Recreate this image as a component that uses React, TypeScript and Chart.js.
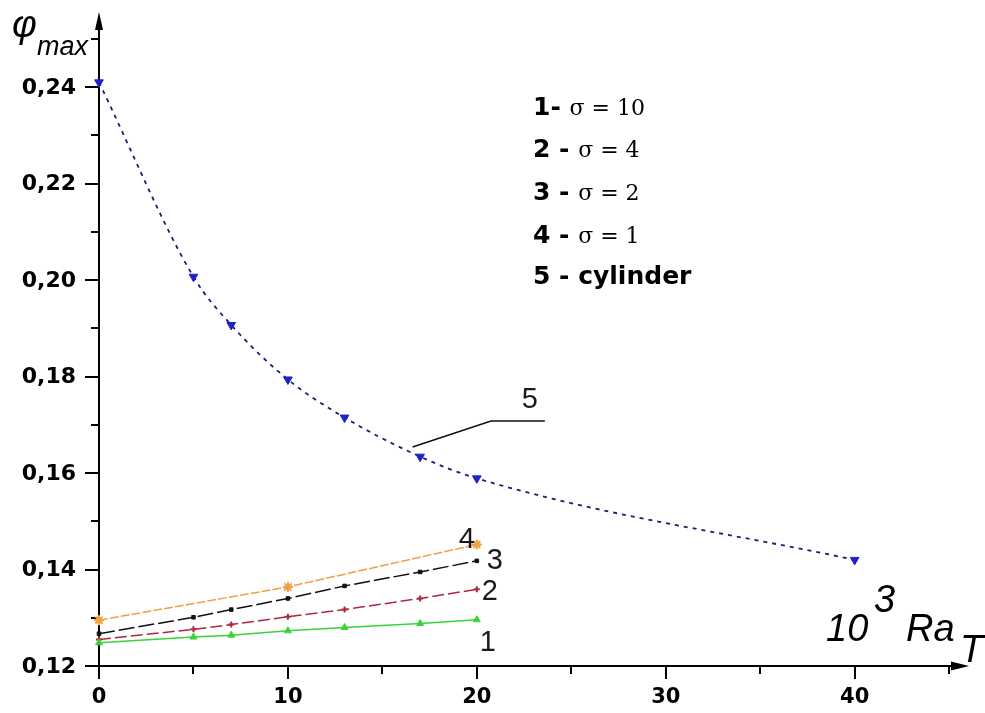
import React, { useEffect, useRef } from "react";
import { Chart, registerables } from "chart.js";

Chart.register(...registerables);

// ---------- data ----------
const xSigma = [0, 5, 7, 10, 13, 17, 20];
const ySigma10 = [0.1248, 0.126, 0.1264, 0.1273, 0.128, 0.1288, 0.1296];
const ySigma4 = [0.1255, 0.1276, 0.1286, 0.1302, 0.1317, 0.134, 0.1359];
const ySigma2 = [0.1267, 0.1301, 0.1317, 0.134, 0.1366, 0.1395, 0.1418];
const xSigma1 = [0, 10, 20];
const ySigma1 = [0.1295, 0.1364, 0.1452];
const xCylinder = [0, 5, 7, 10, 13, 17, 20, 40];
const yCylinder = [0.241, 0.2007, 0.1907, 0.1794, 0.1715, 0.1634, 0.1589, 0.142];

const xMajorTicks = [0, 10, 20, 30, 40];
const xMinorTicks = [5, 15, 25, 35, 45];
const yMajorTicks = [0.12, 0.14, 0.16, 0.18, 0.2, 0.22, 0.24];
const yMinorTicks = [0.13, 0.15, 0.17, 0.19, 0.21, 0.23, 0.25];

const legendSans = ["1- ", "2 - ", "3 - ", "4 - ", "5 - cylinder"];
const legendSerif = ["σ = 10", "σ = 4", "σ = 2", "σ = 1", ""];
const curveLabels = ["1", "2", "3", "4", "5"];

const X_MAX = 46;
const Y_MIN = 0.12;
const Y_MAX = 0.256;

function pts(xs: number[], ys: number[]) {
  return xs.map((x, i) => ({ x, y: ys[i] }));
}

const fmt = (v: number) => v.toFixed(2).replace(".", ",");

const decorPlugin = {
  id: "decor",
  beforeDatasetsDraw(chart: any) {
    const ctx = chart.ctx as CanvasRenderingContext2D;
    const xs = chart.scales.x;
    const ys = chart.scales.y;
    const x0 = xs.getPixelForValue(0);
    const y0 = ys.getPixelForValue(Y_MIN);
    ctx.save();
    ctx.strokeStyle = "#000";
    ctx.fillStyle = "#000";
    ctx.lineWidth = 2;
    // y axis
    ctx.beginPath();
    ctx.moveTo(x0, y0);
    ctx.lineTo(x0, 16);
    ctx.stroke();
    // y arrow
    ctx.beginPath();
    ctx.moveTo(x0, 12);
    ctx.lineTo(x0 - 4, 30);
    ctx.lineTo(x0 + 4, 30);
    ctx.closePath();
    ctx.fill();
    // x axis
    ctx.beginPath();
    ctx.moveTo(x0 - 14, y0);
    ctx.lineTo(962, y0);
    ctx.stroke();
    ctx.beginPath();
    ctx.moveTo(969, y0);
    ctx.lineTo(951, y0 - 4.5);
    ctx.lineTo(951, y0 + 4.5);
    ctx.closePath();
    ctx.fill();
    // y ticks
    ctx.lineWidth = 2;
    for (const v of yMajorTicks) {
      const py = Math.round(ys.getPixelForValue(v));
      ctx.beginPath();
      ctx.moveTo(x0 - 14, py);
      ctx.lineTo(x0, py);
      ctx.stroke();
    }
    for (const v of yMinorTicks) {
      const py = Math.round(ys.getPixelForValue(v));
      ctx.beginPath();
      ctx.moveTo(x0 - 8, py);
      ctx.lineTo(x0, py);
      ctx.stroke();
    }
    for (const v of xMajorTicks) {
      const px = Math.round(xs.getPixelForValue(v));
      ctx.beginPath();
      ctx.moveTo(px, y0);
      ctx.lineTo(px, y0 + 13);
      ctx.stroke();
    }
    for (const v of xMinorTicks) {
      const px = Math.round(xs.getPixelForValue(v));
      ctx.beginPath();
      ctx.moveTo(px, y0);
      ctx.lineTo(px, y0 + 8);
      ctx.stroke();
    }
    // tick labels
    ctx.font = "bold 22px 'DejaVu Sans'";
    ctx.textAlign = "right";
    ctx.textBaseline = "middle";
    for (const v of yMajorTicks) {
      ctx.fillText(fmt(v), 76, ys.getPixelForValue(v) + 1);
    }
    ctx.font = "bold 21px 'DejaVu Sans'";
    ctx.textAlign = "center";
    ctx.textBaseline = "alphabetic";
    for (const v of xMajorTicks) {
      ctx.fillText(String(v), xs.getPixelForValue(v), 703);
    }
    // leader line for curve 5
    ctx.lineWidth = 1.6;
    ctx.strokeStyle = "#111";
    ctx.beginPath();
    ctx.moveTo(xs.getPixelForValue(16.6), ys.getPixelForValue(0.1654));
    ctx.lineTo(xs.getPixelForValue(20.75), ys.getPixelForValue(0.1708));
    ctx.lineTo(xs.getPixelForValue(23.6), ys.getPixelForValue(0.1708));
    ctx.stroke();
    ctx.restore();
  },
  afterDraw(chart: any) {
    const ctx = chart.ctx as CanvasRenderingContext2D;
    const xs = chart.scales.x;
    const ys = chart.scales.y;
    ctx.save();
    ctx.fillStyle = "#000";
    ctx.textAlign = "left";
    ctx.textBaseline = "alphabetic";
    // y axis title
    ctx.font = "italic 38px 'Liberation Sans'";
    ctx.fillText("φ", 12, 37);
    ctx.font = "italic 27px 'Liberation Sans'";
    ctx.fillText("max", 37, 55);
    // x axis title
    ctx.font = "italic 38px 'Liberation Sans'";
    ctx.fillText("10", 826, 641);
    ctx.fillText("3", 874, 612);
    ctx.fillText("Ra", 906, 641);
    ctx.fillText("T", 960, 662);
    // legend
    const baselines = [115, 157, 200, 243, 284];
    for (let i = 0; i < legendSans.length; i++) {
      ctx.font = "bold 25px 'DejaVu Sans'";
      ctx.fillText(legendSans[i], 533, baselines[i]);
      const w = ctx.measureText(legendSans[i]).width;
      if (legendSerif[i]) {
        ctx.font = "22px 'DejaVu Serif'";
        ctx.fillText(legendSerif[i], 533 + w, baselines[i]);
      }
    }
    // curve labels
    const anchors = [
      [20.58, 0.1248],
      [20.69, 0.1353],
      [20.95, 0.1418],
      [19.47, 0.1462],
      [22.8, 0.1752],
    ];
    ctx.font = "29px 'Liberation Sans'";
    ctx.fillStyle = "#1a1a1a";
    ctx.textAlign = "center";
    ctx.textBaseline = "middle";
    curveLabels.forEach((t, i) => {
      ctx.fillText(t, xs.getPixelForValue(anchors[i][0]), ys.getPixelForValue(anchors[i][1]));
    });
    ctx.restore();
  },
};

export default function App() {
  const ref = useRef<HTMLCanvasElement | null>(null);
  useEffect(() => {
    if (!ref.current) return;
    const common = { clip: false as any, showLine: true, borderWidth: 1.5, pointBorderWidth: 1 };
    const chart = new Chart(ref.current, {
      type: "scatter",
      data: {
        datasets: [
          {
            ...common,
            label: "5 - cylinder",
            data: pts(xCylinder, yCylinder),
            borderColor: "#1c1c7a",
            borderWidth: 1.8,
            borderDash: [4, 5],
            cubicInterpolationMode: "monotone",
            pointStyle: "triangle",
            rotation: 180,
            pointRadius: 5,
            pointBackgroundColor: "#2020c8",
            pointBorderColor: "#2020c8",
          },
          {
            ...common,
            label: "1 - σ = 10",
            data: pts(xSigma, ySigma10),
            borderColor: "#3ad43a",
            pointStyle: "triangle",
            pointRadius: 4,
            pointBackgroundColor: "#3ad43a",
            pointBorderColor: "#3ad43a",
          },
          {
            ...common,
            label: "2 - σ = 4",
            data: pts(xSigma, ySigma4),
            borderColor: "#b0283c",
            borderDash: [12, 4],
            pointStyle: "cross",
            pointRadius: 3,
            pointBackgroundColor: "#b0283c",
            pointBorderColor: "#b0283c",
            pointBorderWidth: 2,
          },
          {
            ...common,
            label: "3 - σ = 2",
            data: pts(xSigma, ySigma2),
            borderColor: "#111111",
            borderDash: [16, 4],
            pointStyle: "rect",
            pointRadius: 2.5,
            pointBackgroundColor: "#111111",
            pointBorderColor: "#111111",
          },
          {
            ...common,
            label: "4 - σ = 1",
            data: pts(xSigma1, ySigma1),
            borderColor: "#f0a040",
            borderDash: [9, 2],
            pointStyle: "star",
            pointRadius: 5,
            pointBackgroundColor: "#f0a040",
            pointBorderColor: "#f0a040",
            pointBorderWidth: 2,
          },
        ],
      },
      options: {
        animation: false,
        responsive: false,
        devicePixelRatio: 1,
        layout: { padding: { left: 99, top: 10, right: 17, bottom: 47 } },
        plugins: { legend: { display: false }, tooltip: { enabled: false }, title: { display: false } },
        scales: {
          x: { type: "linear", min: 0, max: X_MAX, display: false },
          y: { type: "linear", min: Y_MIN, max: Y_MAX, display: false },
        },
      },
      plugins: [decorPlugin],
    } as any);
    return () => chart.destroy();
  }, []);
  return (
    <div style={{ position: "absolute", left: 0, top: 0, width: 985, height: 713, background: "#fff" }}>
      <canvas ref={ref} width={985} height={713} style={{ width: 985, height: 713, display: "block" }} />
    </div>
  );
}
